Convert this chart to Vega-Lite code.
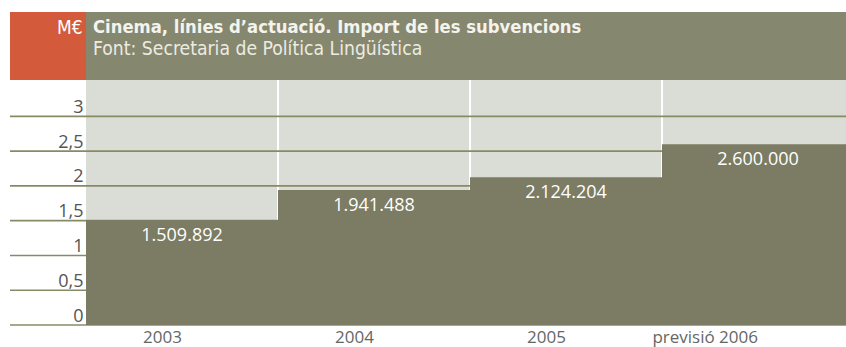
{
  "$schema": "https://vega.github.io/schema/vega-lite/v6.json",
  "width": 836,
  "height": 313,
  "autosize": "none",
  "padding": {"left": 10, "top": 12, "right": 0, "bottom": 22},
  "background": "#ffffff",
  "title": {
    "text": "Cinema, línies d’actuació. Import de les subvencions",
    "subtitle": "Font: Secretaria de Política Lingüística",
    "anchor": "start",
    "frame": "group",
    "dx": 83,
    "offset": -48,
    "fontSize": 18.3,
    "fontWeight": "bold",
    "color": "#f4f4ee",
    "subtitleFontSize": 19.2,
    "subtitleColor": "#ececE2",
    "subtitlePadding": 3,
    "zindex": 1
  },
  "datasets": {
    "subsidies": [
      {"year": "2003", "amount": 1509892},
      {"year": "2004", "amount": 1941488},
      {"year": "2005", "amount": 2124204},
      {"year": "previsió 2006", "amount": 2600000}
    ],
    "grid": [
      {"tick": 0}, {"tick": 500000}, {"tick": 1000000}, {"tick": 1500000},
      {"tick": 2000000}, {"tick": 2500000}, {"tick": 3000000}
    ]
  },
  "data": {"name": "subsidies"},
  "layer": [
    {
      "data": {"values": [{"band": "header"}]},
      "mark": {"type": "rect", "fill": "#d35a3b"},
      "encoding": {
        "y": {"datum": 3522000, "type": "quantitative", "scale": {"domain": [0, 4500000], "nice": false}},
        "y2": {"datum": 4500000}
      }
    },
    {
      "mark": {"type": "rect", "fill": "#dadcd6"},
      "encoding": {
        "x": {"field": "year", "type": "nominal", "sort": null, "scale": {"range": [76, 844], "paddingInner": 0, "paddingOuter": 0}},
        "y": {"datum": 0, "type": "quantitative"},
        "y2": {"datum": 3522000}
      }
    },
    {
      "mark": {"type": "rect", "fill": "#86876f"},
      "encoding": {
        "x": {"field": "year", "type": "nominal", "sort": null},
        "y": {"datum": 3522000, "type": "quantitative"},
        "y2": {"datum": 4500000}
      }
    },
    {
      "transform": [{"filter": "datum.year !== '2003'"}],
      "mark": {"type": "rule", "stroke": "#ffffff", "strokeWidth": 2},
      "encoding": {
        "x": {"field": "year", "type": "nominal", "sort": null, "bandPosition": 0},
        "y": {"datum": 0, "type": "quantitative"},
        "y2": {"datum": 3522000}
      }
    },
    {
      "data": {"name": "grid"},
      "mark": {"type": "rule", "stroke": "#888a66", "strokeWidth": 1.6},
      "encoding": {
        "y": {"field": "tick", "type": "quantitative"}
      }
    },
    {
      "mark": {"type": "rect", "fill": "#7b7c63"},
      "encoding": {
        "x": {
          "field": "year", "type": "nominal", "sort": null,
          "axis": {
            "title": null, "labelAngle": 0, "labelFontSize": 17, "labelColor": "#666666",
            "ticks": false, "domain": false, "labelPadding": 4, "labelFont": "Open Sans",
            "labelBaseline": "top", "zindex": 1
          }
        },
        "y": {
          "field": "amount", "type": "quantitative",
          "axis": {
            "values": [0, 500000, 1000000, 1500000, 2000000, 2500000, 3000000],
            "labelExpr": "replace(format(datum.value / 1000000, '.1~f'), '.', ',')",
            "grid": false, "ticks": false, "domain": false,
            "offset": -72, "labelAlign": "right", "labelBaseline": "alphabetic",
            "labelOffset": -4, "labelPadding": -1, "labelFontSize": 18, "labelColor": "#555555",
            "labelFont": "Open Sans",
            "title": "M€", "titleAngle": 0, "titleX": 0, "titleY": 21,
            "titleAlign": "right", "titleBaseline": "alphabetic",
            "titleFontSize": 19, "titleFontWeight": "normal", "titleColor": "#ffffff",
            "zindex": 1
          }
        },
        "y2": {"datum": 0}
      }
    },
    {
      "mark": {"type": "text", "color": "#ffffff", "fontSize": 18, "dy": 16, "baseline": "middle", "font": "Open Sans"},
      "encoding": {
        "x": {"field": "year", "type": "nominal", "sort": null},
        "y": {"field": "amount", "type": "quantitative"},
        "text": {"field": "amount", "type": "quantitative", "format": ","}
      }
    }
  ],
  "config": {
    "view": {"stroke": null},
    "font": "DejaVu Sans Condensed, Open Sans",
    "locale": {
      "number": {"decimal": ",", "thousands": ".", "grouping": [3], "currency": ["", " €"]}
    }
  }
}
